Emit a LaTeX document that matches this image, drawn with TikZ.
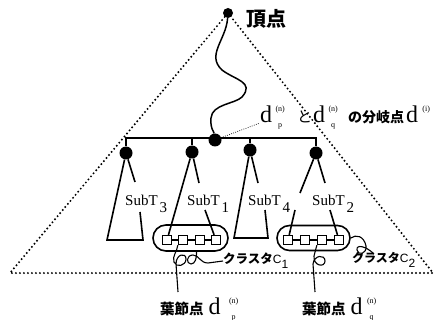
\documentclass[tikz,border=0pt]{standalone}
\usepackage{fontspec}
\setmainfont{Liberation Serif}
\newfontfamily\jp{Noto Sans CJK JP}
\newfontfamily\lsans{Liberation Sans}
\usetikzlibrary{shapes.misc}
\newcommand{\dlab}[3][3pt]{{\fontsize{24}{24}\selectfont d}\kern#1\rlap{\raisebox{11pt}{\makebox[10pt]{\fontsize{8}{8}\selectfont #3}}}\raisebox{-5pt}{\makebox[10pt]{\fontsize{8}{8}\selectfont #2}}}
\newcommand{\subtlab}[1]{SubT\kern2pt\raisebox{-7pt}{#1}}
\begin{document}
\begin{tikzpicture}[x=1pt,y=-1pt,
  dotline/.style={line width=2.2pt, dash pattern=on 0pt off 4pt, line cap=round},
  leader/.style={line width=1pt, dash pattern=on 0pt off 2.2pt, line cap=round},
  edge/.style={line width=1.6pt},
  curl/.style={line width=1.1pt},
  blob/.style={circle, fill=black, inner sep=0pt, minimum size=#1},
  sq/.style={draw, line width=1.3pt, minimum size=9pt, inner sep=0pt},
  clus/.style={rounded rectangle, draw, line width=1.6pt, inner sep=0pt},
  subt/.style={anchor=base west, inner sep=0pt, font=\fontsize{15}{15}\selectfont},
  txt/.style={inner sep=0pt}
]
\useasboundingbox (0,0) rectangle (443,320);
% main nodes
\node[blob=10pt] (apex) at (228,13) {};
\node[blob=13pt] (br) at (215,140) {};
\node[blob=13pt] (r3) at (126,153) {};
\node[blob=13pt] (r1) at (192,152) {};
\node[blob=13pt] (r4) at (250,150) {};
\node[blob=13pt] (r2) at (316,153) {};
% outer dotted triangle
\coordinate (BL) at (10,273);
\coordinate (BR) at (433,273);
\draw[dotline] (apex) -- (BL) -- (BR) -- (apex);
% wavy path
\draw[line width=1.5pt] (apex) .. controls (226,40) and (206,55) .. (222,70)
  .. controls (235,80) and (255,82) .. (242,97)
  .. controls (235,104) and (212,104) .. (211,118)
  .. controls (210,128) and (214,132) .. (br);
% bar
\coordinate (b3) at (126,138);
\coordinate (b1) at (192,138);
\coordinate (b4) at (250,138);
\coordinate (b2) at (316,138);
\draw[edge] (r3) -- (b3) -- (b2) -- (r2);
\draw[edge] (r1) -- (b1);
\draw[edge] (r4) -- (b4);
% clusters
\node[clus, minimum width=75pt, minimum height=26pt] (C1) at (190.5,238) {};
\node[sq] (c1a) at (167,240) {};
\node[sq] (c1b) at (183,240) {};
\node[sq] (c1c) at (200,240) {};
\node[sq] (c1d) at (216,240) {};
\draw[line width=1.3pt] (c1a) -- (c1b);
\draw[line width=1.3pt] (c1b) -- (c1c);
\draw[line width=1.3pt] (c1c) -- (c1d);
\node[clus, minimum width=73pt, minimum height=25pt] (C2) at (313.5,238) {};
\node[sq] (c2a) at (288,240) {};
\node[sq] (c2b) at (305,240) {};
\node[sq] (c2c) at (322,240) {};
\node[sq] (c2d) at (339,240) {};
\draw[line width=1.3pt] (c2a) -- (c2b);
\draw[line width=1.3pt] (c2b) -- (c2c);
\draw[line width=1.3pt] (c2c) -- (c2d);
% subtrees
\draw[edge] (r3) -- (107,240) -- (143,240) -- (140,212);
\draw[edge] (r3) -- (135,182);
\draw[edge] (r1) -- (c1a);
\draw[edge] (r1) -- (199,183);
\draw[edge] (205,210) -- (c1d);
\draw[edge] (r4) -- (234,238) -- (268,238) -- (265,210);
\draw[edge] (r4) -- (258,183);
\draw[edge] (r2) -- (300,193);
\draw[edge] (295,210) -- (c2a);
\draw[edge] (r2) -- (325,183);
\draw[edge] (330,210) -- (c2d);
% subtree labels
\node[subt] (s3) at (125,205) {\subtlab{3}};
\node[subt] (s1) at (187,205) {\subtlab{1}};
\node[subt] (s4) at (248,205) {\subtlab{4}};
\node[subt] (s2) at (312,205) {\subtlab{2}};
% top labels
\node[txt, anchor=west] (top) at (246,19) {\jp\bfseries\fontsize{20}{20}\selectfont 頂点};
\node[txt, anchor=base west] (lab) at (260,123) {\dlab{p}{(n)}\hspace{12pt}{\jp\fontsize{15}{15}\selectfont と}\kern1pt\dlab{q}{(n)}\hspace{10pt}{\jp\bfseries\fontsize{14}{14}\selectfont の分岐点}\hspace{2pt}\dlab{}{(i)}};
\draw[leader] (br) -- (lab.base west);
% cluster labels
\node[txt, anchor=west] (c1lab) at (223,261) {{\jp\bfseries\fontsize{12.5}{12.5}\selectfont クラスタ}\lsans\fontsize{12}{12}\selectfont C\raisebox{-5pt}{1}};
\node[txt, anchor=west] (c2lab) at (352,260) {{\jp\bfseries\fontsize{12}{12}\selectfont クラスタ}\lsans\fontsize{12}{12}\selectfont C\raisebox{-5pt}{2}};
% leaf labels
\node[txt, anchor=base west] (lp) at (160,314) {{\jp\bfseries\fontsize{14.5}{14.5}\selectfont 葉節点}\hspace{5pt}\dlab[8pt]{p}{(n)}};
\node[txt, anchor=base west] (lq) at (302,314) {{\jp\bfseries\fontsize{14.5}{14.5}\selectfont 葉節点}\hspace{5pt}\dlab[4pt]{q}{(n)}};
% pointers
\coordinate (pend) at (178,292);
\coordinate (qend) at (315,292);
\coordinate (c2end) at (374,254);
\draw[curl] (c1b.south west) .. controls (177,252) and (172,256) .. (174,262)
  .. controls (176,268) and (186,266) .. (186,259)
  .. controls (186,252) and (176,254) .. (176,264) -- (pend);
\draw[curl] ([xshift=6pt]C1.south) .. controls (197,258) and (195,264) .. (191,264)
  .. controls (186,264) and (186,255) .. (193,255)
  .. controls (199,255) and (200,263) .. (208,263) -- (c1lab.west);
\draw[curl] (c2c.south west) -- (314,256) .. controls (313,266) and (325,268) .. (325,261)
  .. controls (325,254) and (314,255) .. (313,264) -- (qend);
\draw[curl] (C2.east) .. controls (356,234) and (364,236) .. (366,246)
  .. controls (367,254) and (358,256) .. (357,250)
  .. controls (356,244) and (366,246) .. (c2end);
\end{tikzpicture}
\end{document}
